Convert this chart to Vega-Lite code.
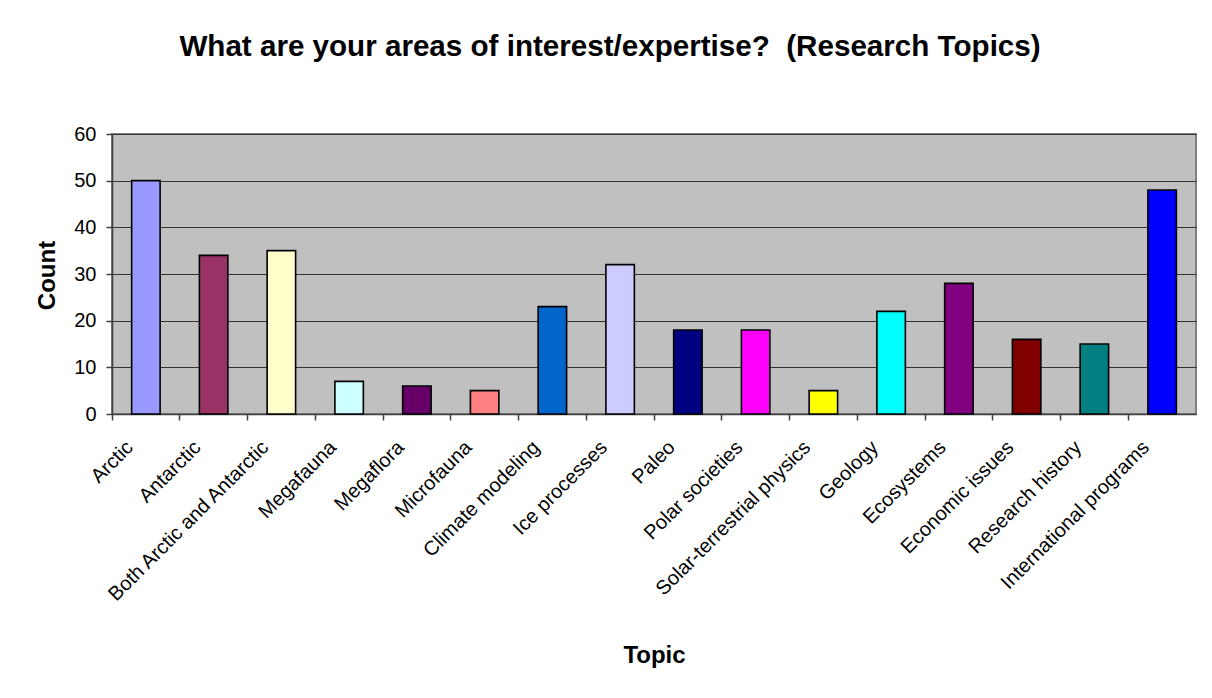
{
  "$schema": "https://vega.github.io/schema/vega-lite/v6.json",
  "width": 1084,
  "height": 280,
  "autosize": {"type": "none"},
  "padding": {"left": 112, "top": 134, "right": 16, "bottom": 284},
  "background": "white",
  "title": {
    "text": "What are your areas of interest/expertise? \u00a0(Research Topics)",
    "font": "Liberation Sans",
    "fontSize": 29.6,
    "fontWeight": "bold",
    "color": "#000000",
    "anchor": "middle",
    "frame": "group",
    "baseline": "alphabetic",
    "dx": -44,
    "offset": 38
  },
  "data": {
    "values": [
      {"topic": "Arctic", "count": 50},
      {"topic": "Antarctic", "count": 34},
      {"topic": "Both Arctic and Antarctic", "count": 35},
      {"topic": "Megafauna", "count": 7},
      {"topic": "Megaflora", "count": 6},
      {"topic": "Microfauna", "count": 5},
      {"topic": "Climate modeling", "count": 23},
      {"topic": "Ice processes", "count": 32},
      {"topic": "Paleo", "count": 18},
      {"topic": "Polar societies", "count": 18},
      {"topic": "Solar-terrestrial physics", "count": 5},
      {"topic": "Geology", "count": 22},
      {"topic": "Ecosystems", "count": 28},
      {"topic": "Economic issues", "count": 16},
      {"topic": "Research history", "count": 15},
      {"topic": "International programs", "count": 48}
    ]
  },
  "mark": {
    "type": "bar",
    "width": {"band": 0.42},
    "stroke": "#000000",
    "strokeWidth": 1.6
  },
  "encoding": {
    "x": {
      "field": "topic",
      "type": "nominal",
      "sort": null,
      "scale": {"paddingInner": 0, "paddingOuter": 0},
      "axis": {
        "title": "Topic",
        "titleFont": "Liberation Sans",
        "titleFontSize": 24,
        "titleFontWeight": "bold",
        "titleColor": "#000000",
        "titleBaseline": "alphabetic",
        "titleY": 248,
        "labelAngle": -45,
        "labelAlign": "right",
        "labelBaseline": "middle",
        "labelFont": "Liberation Sans",
        "labelFontSize": 20,
        "labelColor": "#000000",
        "labelPadding": 24,
        "labelOffset": -16,
        "labelOverlap": false,
        "labelLimit": 0,
        "bandPosition": 0,
        "ticks": true,
        "tickSize": 6,
        "tickColor": "#404040",
        "tickWidth": 1.5,
        "domainColor": "#404040",
        "domainWidth": 1.5,
        "grid": false
      }
    },
    "y": {
      "field": "count",
      "type": "quantitative",
      "scale": {"domain": [0, 60]},
      "axis": {
        "title": "Count",
        "titleFont": "Liberation Sans",
        "titleFontSize": 24,
        "titleFontWeight": "bold",
        "titleColor": "#000000",
        "titleAngle": -90,
        "titleAlign": "center",
        "titleBaseline": "middle",
        "titleX": -65,
        "titleY": 141,
        "values": [0, 10, 20, 30, 40, 50, 60],
        "labelFont": "Liberation Sans",
        "labelFontSize": 20,
        "labelColor": "#000000",
        "labelPadding": 10,
        "tickSize": 6,
        "tickColor": "#404040",
        "tickWidth": 1.5,
        "domainColor": "#404040",
        "domainWidth": 1.5,
        "grid": true,
        "gridColor": "#333333",
        "gridWidth": 1.2,
        "gridOpacity": 1
      }
    },
    "color": {
      "field": "topic",
      "type": "nominal",
      "sort": null,
      "legend": null,
      "scale": {
        "domain": [
          "Arctic", "Antarctic", "Both Arctic and Antarctic", "Megafauna",
          "Megaflora", "Microfauna", "Climate modeling", "Ice processes",
          "Paleo", "Polar societies", "Solar-terrestrial physics", "Geology",
          "Ecosystems", "Economic issues", "Research history", "International programs"
        ],
        "range": [
          "#9999FF", "#993366", "#FFFFCC", "#CCFFFF",
          "#660066", "#FF8080", "#0066CC", "#CCCCFF",
          "#000080", "#FF00FF", "#FFFF00", "#00FFFF",
          "#800080", "#800000", "#008080", "#0000FF"
        ]
      }
    }
  },
  "config": {
    "view": {"fill": "#C0C0C0", "stroke": "#808080", "strokeWidth": 2}
  }
}
